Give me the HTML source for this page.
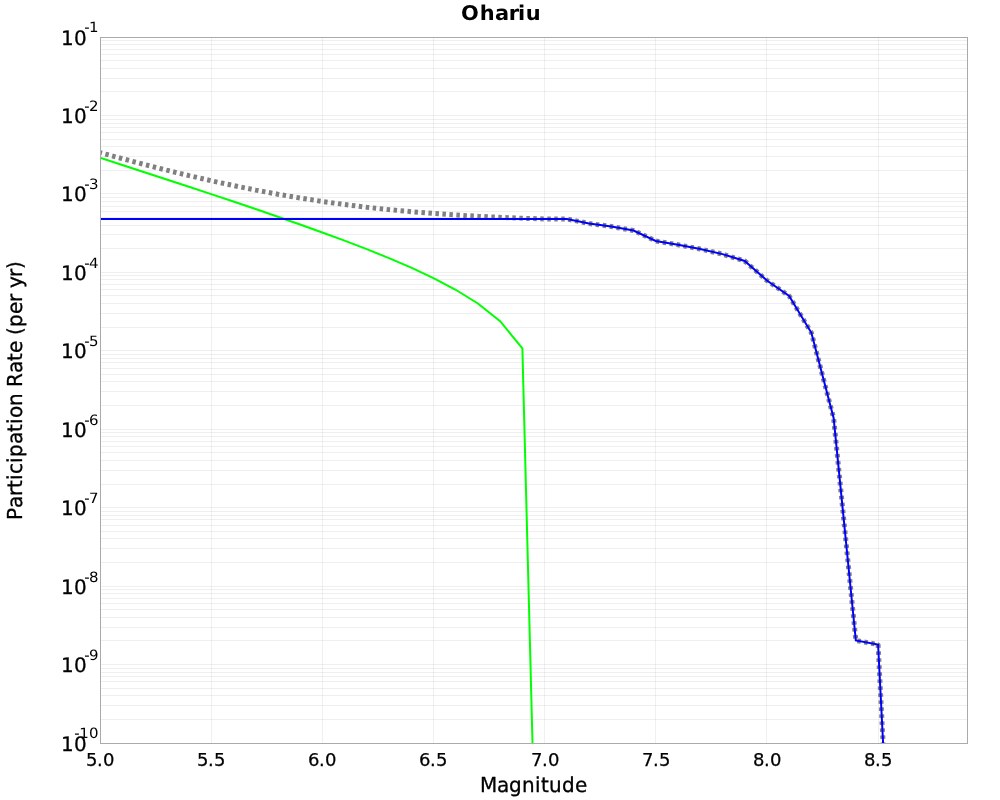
<!DOCTYPE html>
<html><head><meta charset="utf-8"><title>Ohariu</title>
<style>html,body{margin:0;padding:0;background:#fff;overflow:hidden}svg{display:block;will-change:transform;transform:translateZ(0)}</style>
</head><body>
<svg width="1000" height="800" viewBox="0 0 1000 800">
<rect x="0" y="0" width="1000" height="800" fill="#ffffff"/>
<path d="M100.0 37.5H967.0M100.0 115.5H967.0M100.0 91.5H967.0M100.0 78.5H967.0M100.0 68.5H967.0M100.0 60.5H967.0M100.0 54.5H967.0M100.0 49.5H967.0M100.0 44.5H967.0M100.0 40.5H967.0M100.0 193.5H967.0M100.0 170.5H967.0M100.0 156.5H967.0M100.0 146.5H967.0M100.0 139.5H967.0M100.0 132.5H967.0M100.0 127.5H967.0M100.0 123.5H967.0M100.0 119.5H967.0M100.0 272.5H967.0M100.0 248.5H967.0M100.0 234.5H967.0M100.0 225.5H967.0M100.0 217.5H967.0M100.0 211.5H967.0M100.0 206.5H967.0M100.0 201.5H967.0M100.0 197.5H967.0M100.0 350.5H967.0M100.0 327.5H967.0M100.0 313.5H967.0M100.0 303.5H967.0M100.0 295.5H967.0M100.0 289.5H967.0M100.0 284.5H967.0M100.0 279.5H967.0M100.0 275.5H967.0M100.0 429.5H967.0M100.0 405.5H967.0M100.0 391.5H967.0M100.0 381.5H967.0M100.0 374.5H967.0M100.0 368.5H967.0M100.0 362.5H967.0M100.0 358.5H967.0M100.0 354.5H967.0M100.0 507.5H967.0M100.0 484.5H967.0M100.0 470.5H967.0M100.0 460.5H967.0M100.0 452.5H967.0M100.0 446.5H967.0M100.0 441.5H967.0M100.0 436.5H967.0M100.0 432.5H967.0M100.0 586.5H967.0M100.0 562.5H967.0M100.0 548.5H967.0M100.0 538.5H967.0M100.0 531.5H967.0M100.0 525.5H967.0M100.0 519.5H967.0M100.0 515.5H967.0M100.0 511.5H967.0M100.0 664.5H967.0M100.0 640.5H967.0M100.0 627.5H967.0M100.0 617.5H967.0M100.0 609.5H967.0M100.0 603.5H967.0M100.0 598.5H967.0M100.0 593.5H967.0M100.0 589.5H967.0M100.0 743.5H967.0M100.0 719.5H967.0M100.0 705.5H967.0M100.0 695.5H967.0M100.0 688.5H967.0M100.0 681.5H967.0M100.0 676.5H967.0M100.0 672.5H967.0M100.0 668.5H967.0" stroke="#c0c0c0" stroke-opacity="0.25" stroke-width="1" fill="none" shape-rendering="crispEdges"/>
<path d="M100.5 37.0V743.0M211.5 37.0V743.0M322.5 37.0V743.0M433.5 37.0V743.0M544.5 37.0V743.0M655.5 37.0V743.0M766.5 37.0V743.0M878.5 37.0V743.0" stroke="#c0c0c0" stroke-opacity="0.23" stroke-width="1" fill="none" shape-rendering="crispEdges"/>
<clipPath id="c"><rect x="100" y="37" width="867" height="706.5"/></clipPath>
<g clip-path="url(#c)" fill="none" stroke-linejoin="miter">
<polyline points="100.00,152.58 122.23,158.64 144.46,164.52 166.69,170.18 188.92,175.59 211.15,180.72 233.38,185.55 255.62,190.06 277.85,194.22 300.08,198.02 322.31,201.45 344.54,204.52 366.77,207.24 389.00,209.62 411.23,211.69 433.46,213.46 455.69,214.98 477.92,216.26 500.15,217.34 522.38,218.25 544.62,219.00 566.85,219.00 589.08,223.50 611.31,226.50 633.54,230.50 655.77,241.00 678.00,244.80 700.23,249.00 722.46,254.10 744.69,261.00 766.92,280.50 789.15,296.00 811.38,332.80 833.62,418.00 855.85,640.50 878.08,644.50 883.10,743.00" stroke="#808080" stroke-width="5" stroke-dasharray="3.5 3.5" stroke-dashoffset="1.45" stroke-linejoin="bevel"/>
<polyline points="100.00,157.80 122.23,164.99 144.46,172.21 166.69,179.46 188.92,186.76 211.15,194.12 233.38,201.55 255.62,209.07 277.85,216.70 300.08,224.48 322.31,232.44 344.54,240.65 366.77,249.18 389.00,258.14 411.23,267.69 433.46,278.09 455.69,289.76 477.92,303.52 500.15,321.16 522.38,348.49 532.50,743.00" stroke="#00ff00" stroke-width="2"/>
<polyline points="100.00,219.00 566.85,219.00 589.08,223.50 611.31,226.50 633.54,230.50 655.77,241.00 678.00,244.80 700.23,249.00 722.46,254.10 744.69,261.00 766.92,280.50 789.15,296.00 811.38,332.80 833.62,418.00 855.85,640.50 878.08,644.50 883.10,743.00" stroke="#0000ff" stroke-width="2"/>
</g>
<rect x="100.5" y="37.5" width="867" height="706" fill="none" stroke="#aaaaaa" stroke-width="1" shape-rendering="crispEdges"/>
<g font-family="DejaVu Sans, 'Liberation Sans', sans-serif" fill="#000000">
<text transform="translate(0,19.6) skewX(0.05) scale(1,0.97)" font-size="21" font-weight="bold" x="460.9 479.7 495.1 508.75 518.05 525.7">Ohariu</text>
<text transform="translate(480,792) skewX(0.05) scale(1,1.03)" font-size="20" stroke="#000" stroke-width="0.3" x="0 17 29 42 55 61 69 82 95">Magnitude</text>
<text transform="translate(22,520) rotate(-90) skewX(0.05) scale(1,1.03)" font-size="20" stroke="#000" stroke-width="0.3" x="0 12 24 32 40 46 57 63 76 88 96 102 114 127 133 147 159 167 179 185 193 206 218 226 232 243 251">Participation Rate (per yr)</text>
<text y="766" font-size="18" stroke="#000" stroke-width="0.25" x="86 97 103">5.0</text>
<text y="766" font-size="18" stroke="#000" stroke-width="0.25" x="197 208 214">5.5</text>
<text y="766" font-size="18" stroke="#000" stroke-width="0.25" x="308 319 325">6.0</text>
<text y="766" font-size="18" stroke="#000" stroke-width="0.25" x="419 430 436">6.5</text>
<text y="766" font-size="18" stroke="#000" stroke-width="0.25" x="531 542 548">7.0</text>
<text y="766" font-size="18" stroke="#000" stroke-width="0.25" x="642 653 659">7.5</text>
<text y="766" font-size="18" stroke="#000" stroke-width="0.25" x="753 764 770">8.0</text>
<text y="766" font-size="18" stroke="#000" stroke-width="0.25" x="864 875 881">8.5</text>
<text transform="translate(0,45) skewX(0.05) scale(1,1.0)" font-size="20" stroke="#000" stroke-width="0.3" x="60.9 74.1">10</text>
<text transform="translate(0,32) skewX(0.05) scale(1,0.95)" font-size="15" x="84.3 89.0">-1</text>
<text transform="translate(0,123) skewX(0.05) scale(1,1.0)" font-size="20" stroke="#000" stroke-width="0.3" x="60.9 74.1">10</text>
<text transform="translate(0,111) skewX(0.05) scale(1,0.95)" font-size="15" x="84.3 89.0">-2</text>
<text transform="translate(0,201) skewX(0.05) scale(1,1.0)" font-size="20" stroke="#000" stroke-width="0.3" x="60.9 74.1">10</text>
<text transform="translate(0,189) skewX(0.05) scale(1,0.95)" font-size="15" x="84.3 89.0">-3</text>
<text transform="translate(0,280) skewX(0.05) scale(1,1.0)" font-size="20" stroke="#000" stroke-width="0.3" x="60.9 74.1">10</text>
<text transform="translate(0,268) skewX(0.05) scale(1,0.95)" font-size="15" x="84.3 89.0">-4</text>
<text transform="translate(0,358) skewX(0.05) scale(1,1.0)" font-size="20" stroke="#000" stroke-width="0.3" x="60.9 74.1">10</text>
<text transform="translate(0,346) skewX(0.05) scale(1,0.95)" font-size="15" x="84.3 89.0">-5</text>
<text transform="translate(0,437) skewX(0.05) scale(1,1.0)" font-size="20" stroke="#000" stroke-width="0.3" x="60.9 74.1">10</text>
<text transform="translate(0,425) skewX(0.05) scale(1,0.95)" font-size="15" x="84.3 89.0">-6</text>
<text transform="translate(0,515) skewX(0.05) scale(1,1.0)" font-size="20" stroke="#000" stroke-width="0.3" x="60.9 74.1">10</text>
<text transform="translate(0,503) skewX(0.05) scale(1,0.95)" font-size="15" x="84.3 89.0">-7</text>
<text transform="translate(0,594) skewX(0.05) scale(1,1.0)" font-size="20" stroke="#000" stroke-width="0.3" x="60.9 74.1">10</text>
<text transform="translate(0,582) skewX(0.05) scale(1,0.95)" font-size="15" x="84.3 89.0">-8</text>
<text transform="translate(0,672) skewX(0.05) scale(1,1.0)" font-size="20" stroke="#000" stroke-width="0.3" x="60.9 74.1">10</text>
<text transform="translate(0,660) skewX(0.05) scale(1,0.95)" font-size="15" x="84.3 89.0">-9</text>
<text transform="translate(0,751) skewX(0.05) scale(1,1.0)" font-size="20" stroke="#000" stroke-width="0.3" x="60.9 74.1">10</text>
<text transform="translate(0,738) skewX(0.05) scale(1,0.95)" font-size="15" x="74.3 79.2 88.9">-10</text>
</g>
</svg>
</body></html>
